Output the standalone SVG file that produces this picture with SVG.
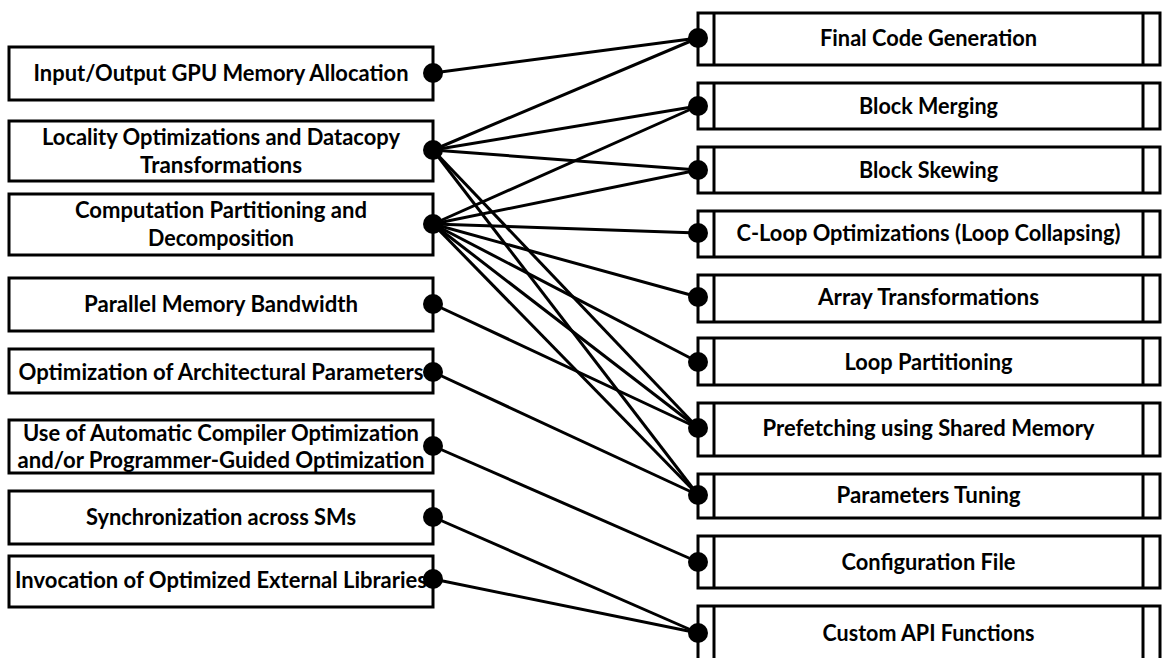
<svg xmlns="http://www.w3.org/2000/svg" width="1163" height="658" viewBox="0 0 1163 658">
<style>
.box{fill:#fff;stroke:#000;stroke-width:3}
.div{stroke:#000;stroke-width:3}
.t{font-family:Lato,"Open Sans","Liberation Sans",sans-serif;font-weight:bold;font-size:22px;fill:#000;text-anchor:middle}
.c{stroke:#000;stroke-width:3;fill:none}
.dot{fill:#000}
</style>
<rect width="1163" height="658" fill="#fff"/>
<g id="connectors">
<line class="c" x1="433" y1="73" x2="698" y2="38"/>
<line class="c" x1="433" y1="150" x2="698" y2="38"/>
<line class="c" x1="433" y1="150" x2="698" y2="106"/>
<line class="c" x1="433" y1="150" x2="698" y2="170"/>
<line class="c" x1="433" y1="150" x2="698" y2="428"/>
<line class="c" x1="433" y1="150" x2="698" y2="495"/>
<line class="c" x1="433" y1="224" x2="698" y2="106"/>
<line class="c" x1="433" y1="224" x2="698" y2="170"/>
<line class="c" x1="433" y1="224" x2="698" y2="233"/>
<line class="c" x1="433" y1="224" x2="698" y2="297"/>
<line class="c" x1="433" y1="224" x2="698" y2="362"/>
<line class="c" x1="433" y1="224" x2="698" y2="428"/>
<line class="c" x1="433" y1="224" x2="698" y2="495"/>
<line class="c" x1="433" y1="304" x2="698" y2="428"/>
<line class="c" x1="433" y1="372" x2="698" y2="495"/>
<line class="c" x1="433" y1="446" x2="698" y2="562"/>
<line class="c" x1="433" y1="517" x2="698" y2="633"/>
<line class="c" x1="433" y1="579" x2="698" y2="633"/>
</g>
<g id="L1"><rect class="box" x="9" y="47" width="424" height="53"/><text class="t" x="221" y="81" textLength="375" lengthAdjust="spacingAndGlyphs">Input/Output GPU Memory Allocation</text><circle class="dot" cx="433" cy="73" r="10"/></g>
<g id="L2"><rect class="box" x="9" y="121" width="424" height="60"/><text class="t" x="221" y="145" textLength="358" lengthAdjust="spacingAndGlyphs">Locality Optimizations and Datacopy</text><text class="t" x="221" y="173" textLength="162" lengthAdjust="spacingAndGlyphs">Transformations</text><circle class="dot" cx="433" cy="150" r="10"/></g>
<g id="L3"><rect class="box" x="9" y="194" width="424" height="61"/><text class="t" x="221" y="218" textLength="292" lengthAdjust="spacingAndGlyphs">Computation Partitioning and</text><text class="t" x="221" y="246" textLength="146" lengthAdjust="spacingAndGlyphs">Decomposition</text><circle class="dot" cx="433" cy="224" r="10"/></g>
<g id="L4"><rect class="box" x="9" y="278" width="424" height="53"/><text class="t" x="221" y="312" textLength="274" lengthAdjust="spacingAndGlyphs">Parallel Memory Bandwidth</text><circle class="dot" cx="433" cy="304" r="10"/></g>
<g id="L5"><rect class="box" x="9" y="349" width="424" height="44"/><text class="t" x="221" y="380" textLength="405" lengthAdjust="spacingAndGlyphs">Optimization of Architectural Parameters</text><circle class="dot" cx="433" cy="372" r="10"/></g>
<g id="L6"><rect class="box" x="9" y="420" width="424" height="53"/><text class="t" x="221" y="441" textLength="396" lengthAdjust="spacingAndGlyphs">Use of Automatic Compiler Optimization</text><text class="t" x="221" y="468" textLength="407" lengthAdjust="spacingAndGlyphs">and/or Programmer-Guided Optimization</text><circle class="dot" cx="433" cy="446" r="10"/></g>
<g id="L7"><rect class="box" x="9" y="491" width="424" height="53"/><text class="t" x="221" y="525" textLength="270" lengthAdjust="spacingAndGlyphs">Synchronization across SMs</text><circle class="dot" cx="433" cy="517" r="10"/></g>
<g id="L8"><rect class="box" x="9" y="556" width="424" height="51"/><text class="t" x="221" y="588" textLength="412" lengthAdjust="spacingAndGlyphs">Invocation of Optimized External Libraries</text><circle class="dot" cx="433" cy="579" r="10"/></g>
<g id="R1"><rect class="box" x="698" y="13" width="462" height="52"/><line class="div" x1="714" y1="13" x2="714" y2="65"/><line class="div" x1="1143" y1="13" x2="1143" y2="65"/><text class="t" x="928.5" y="46" textLength="217" lengthAdjust="spacingAndGlyphs">Final Code Generation</text><circle class="dot" cx="698" cy="38" r="10"/></g>
<g id="R2"><rect class="box" x="698" y="83" width="462" height="46"/><line class="div" x1="714" y1="83" x2="714" y2="129"/><line class="div" x1="1143" y1="83" x2="1143" y2="129"/><text class="t" x="928.5" y="114" textLength="139" lengthAdjust="spacingAndGlyphs">Block Merging</text><circle class="dot" cx="698" cy="106" r="10"/></g>
<g id="R3"><rect class="box" x="698" y="147" width="462" height="46"/><line class="div" x1="714" y1="147" x2="714" y2="193"/><line class="div" x1="1143" y1="147" x2="1143" y2="193"/><text class="t" x="928.5" y="178" textLength="139" lengthAdjust="spacingAndGlyphs">Block Skewing</text><circle class="dot" cx="698" cy="170" r="10"/></g>
<g id="R4"><rect class="box" x="698" y="211" width="462" height="46"/><line class="div" x1="714" y1="211" x2="714" y2="257"/><line class="div" x1="1143" y1="211" x2="1143" y2="257"/><text class="t" x="928.5" y="241" textLength="384" lengthAdjust="spacingAndGlyphs">C-Loop Optimizations (Loop Collapsing)</text><circle class="dot" cx="698" cy="233" r="10"/></g>
<g id="R5"><rect class="box" x="698" y="275" width="462" height="47"/><line class="div" x1="714" y1="275" x2="714" y2="322"/><line class="div" x1="1143" y1="275" x2="1143" y2="322"/><text class="t" x="928.5" y="305" textLength="221" lengthAdjust="spacingAndGlyphs">Array Transformations</text><circle class="dot" cx="698" cy="297" r="10"/></g>
<g id="R6"><rect class="box" x="698" y="338" width="462" height="47"/><line class="div" x1="714" y1="338" x2="714" y2="385"/><line class="div" x1="1143" y1="338" x2="1143" y2="385"/><text class="t" x="928.5" y="370" textLength="168" lengthAdjust="spacingAndGlyphs">Loop Partitioning</text><circle class="dot" cx="698" cy="362" r="10"/></g>
<g id="R7"><rect class="box" x="698" y="403" width="462" height="53"/><line class="div" x1="714" y1="403" x2="714" y2="456"/><line class="div" x1="1143" y1="403" x2="1143" y2="456"/><text class="t" x="928.5" y="436" textLength="332" lengthAdjust="spacingAndGlyphs">Prefetching using Shared Memory</text><circle class="dot" cx="698" cy="428" r="10"/></g>
<g id="R8"><rect class="box" x="698" y="474" width="462" height="44"/><line class="div" x1="714" y1="474" x2="714" y2="518"/><line class="div" x1="1143" y1="474" x2="1143" y2="518"/><text class="t" x="928.5" y="503" textLength="184" lengthAdjust="spacingAndGlyphs">Parameters Tuning</text><circle class="dot" cx="698" cy="495" r="10"/></g>
<g id="R9"><rect class="box" x="698" y="536" width="462" height="52"/><line class="div" x1="714" y1="536" x2="714" y2="588"/><line class="div" x1="1143" y1="536" x2="1143" y2="588"/><text class="t" x="928.5" y="570" textLength="174" lengthAdjust="spacingAndGlyphs">Configuration File</text><circle class="dot" cx="698" cy="562" r="10"/></g>
<g id="R10"><rect class="box" x="698" y="606" width="462" height="60"/><line class="div" x1="714" y1="606" x2="714" y2="666"/><line class="div" x1="1143" y1="606" x2="1143" y2="666"/><text class="t" x="928.5" y="641" textLength="212" lengthAdjust="spacingAndGlyphs">Custom API Functions</text><circle class="dot" cx="698" cy="633" r="10"/></g>
</svg>
